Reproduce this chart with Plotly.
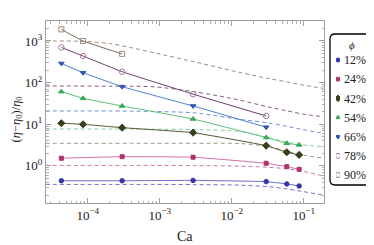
import plotly.graph_objects as go

# ---------------- data ----------------
labels = ["12%", "24%", "42%", "54%", "66%", "78%", "90%"]

ca_12 = [4.3e-5, 3.0e-4, 2.9e-3, 3.0e-2, 5.8e-2, 8.6e-2]
eta_12 = [0.44, 0.44, 0.45, 0.42, 0.37, 0.33]
ca_24 = [4.3e-5, 3.0e-4, 2.9e-3, 3.0e-2, 5.8e-2, 8.6e-2]
eta_24 = [1.53, 1.67, 1.62, 1.16, 0.96, 0.83]
ca_42 = [4.3e-5, 8.6e-5, 3.0e-4, 2.9e-3, 3.0e-2, 5.8e-2, 8.6e-2]
eta_42 = [10.6, 10.0, 8.3, 6.3, 3.07, 2.13, 1.84]
ca_54 = [4.3e-5, 8.6e-5, 3.0e-4, 2.9e-3, 3.0e-2, 5.8e-2, 8.6e-2]
eta_54 = [60.7, 42.0, 27.5, 13.4, 4.8, 3.5, 3.2]
ca_66 = [4.3e-5, 8.6e-5, 3.0e-4, 2.9e-3, 3.0e-2]
eta_66 = [290, 173, 80, 27.5, 8.5]
ca_78 = [4.3e-5, 8.6e-5, 3.0e-4, 2.9e-3, 3.0e-2]
eta_78 = [700, 435, 183, 53, 15.8]
ca_90 = [4.3e-5, 8.6e-5, 3.0e-4]
eta_90 = [1900, 1000, 490]

# theory curves (dashed), read along a common Ca grid
ca_theory = [2.6e-5, 7.8e-5, 2.0e-4, 3.9e-4, 8.6e-4, 3.1e-3, 1.3e-2, 3.2e-2, 5.9e-2, 9.5e-2, 0.185]
th_12 = [0.36, 0.36, 0.36, 0.36, 0.36, 0.356, 0.346, 0.317, 0.28, 0.244, 0.20]
th_24 = [1.03, 1.03, 1.03, 1.03, 1.03, 1.02, 0.99, 0.93, 0.85, 0.75, 0.575]
th_42 = [3.5, 3.5, 3.5, 3.5, 3.5, 3.5, 3.45, 2.94, 2.23, 1.84, 1.53]
th_54 = [7.7, 7.7, 7.7, 7.7, 7.6, 7.5, 6.7, 4.8, 3.7, 3.2, 2.9]
th_66 = [20.9, 20.9, 20.9, 20.7, 20.3, 18.7, 13.1, 10.8, 8.9, 7.5, 6.1]
th_78 = [83, 83, 82, 82, 79, 60, 38, 26, 21, 17.7, 15.2]
th_90 = [1000, 984, 871, 698, 515, 313, 175, 126, 104, 88, 73]

xticks = [1e-4, 1e-3, 1e-2, 1e-1]
xticklabels = ["10<sup>−4</sup>", "10<sup>−3</sup>", "10<sup>−2</sup>", "10<sup>−1</sup>"]
yticks = [1, 10, 100, 1000]
yticklabels = ["10<sup>0</sup>", "10<sup>1</sup>", "10<sup>2</sup>", "10<sup>3</sup>"]

# ---------------- styles ----------------
series = [
    (ca_12, eta_12, th_12, "circle", "#3636a6", "#6b6bc8", "#7070d0", 4.5),
    (ca_24, eta_24, th_24, "square", "#b0306c", "#d070a8", "#c878a8", 4),
    (ca_42, eta_42, th_42, "diamond", "#3d3d1c", "#555533", "#9a9a82", 5.5),
    (ca_54, eta_54, th_54, "triangle-up", "#3aa858", "#5cc07a", "#80d0a0", 5),
    (ca_66, eta_66, th_66, "triangle-down", "#2f55b5", "#4f7fd0", "#7090d8", 5),
    (ca_78, eta_78, th_78, "circle-open", "#a07aa0", "#6b3f6b", "#8a5a8a", 5.5),
    (ca_90, eta_90, th_90, "square-open", "#9a8a7a", "#7d6a55", "#a08c78", 5),
]

fig = go.Figure()
serif = "Liberation Serif, Times New Roman, serif"

for (ca, eta, th, sym, mc, lc, dc, ms), lab in zip(series, labels):
    fig.add_trace(go.Scatter(x=ca_theory, y=th, mode="lines",
                             line=dict(color=dc, width=1, dash="4px,3px", shape="spline", smoothing=0.8),
                             showlegend=False, hoverinfo="skip"))
for (ca, eta, th, sym, mc, lc, dc, ms), lab in zip(series, labels):
    fig.add_trace(go.Scatter(x=ca, y=eta, mode="lines+markers",
                             line=dict(color=lc, width=1, shape="spline", smoothing=0.3),
                             marker=dict(symbol=sym, color=mc, size=ms,
                                         line=dict(color=mc, width=1)),
                             showlegend=False, name=lab))

# legend keys on a small auxiliary axis
for (ca, eta, th, sym, mc, lc, dc, ms), lab in zip(series, labels):
    fig.add_trace(go.Scatter(x=[0], y=[lab], mode="markers", xaxis="x2", yaxis="y2",
                             marker=dict(symbol=sym, color=mc, size=ms - 0.5,
                                         line=dict(color=mc, width=1)),
                             showlegend=False, hoverinfo="skip"))

# minor tick positions (2..9 within each decade)
x_minor = [k * 10.0 ** e for e in range(-5, 0) for k in range(2, 10)]
y_minor = [k * 10.0 ** e for e in range(-1, 4) for k in range(2, 10)]

axis_common = dict(type="log", showline=True, linecolor="#a0a0a0", linewidth=1,
                   mirror="ticks", ticks="inside", ticklen=5, tickcolor="#a0a0a0",
                   showgrid=False, zeroline=False, automargin=False,
                   tickfont=dict(family=serif, size=13, color="#222"))

# The page body adds an 8px offset; the figure is sized to fill the rest of the window.
W = 328.0  # plot-paper width in px
H = 182.0
def px(v):   # screen x -> paper x
    return (v - 46) / W
def py(v):   # screen y -> paper y
    return (203 - v) / H

fig.update_layout(
    width=366, height=237,
    margin=dict(l=38, r=0, t=13, b=42),
    paper_bgcolor="white", plot_bgcolor="white",
    showlegend=False,
    font=dict(family=serif, color="#222"),
    xaxis=dict(**axis_common, domain=[0, px(324)], range=[-4.58, -0.72],
               tickvals=xticks, ticktext=xticklabels,
               minor=dict(tickmode="array", tickvals=x_minor, ticks="inside", ticklen=2.5,
                          tickcolor="#b0b0b0", showgrid=False)),
    yaxis=dict(**axis_common, range=[-0.89, 3.48], tickvals=yticks, ticktext=yticklabels,
               minor=dict(tickmode="array", tickvals=y_minor, ticks="inside", ticklen=2.5,
                          tickcolor="#b0b0b0", showgrid=False)),
    xaxis2=dict(domain=[px(336), px(340)], anchor="y2", range=[-1, 1], visible=False,
                automargin=False),
    yaxis2=dict(domain=[py(184.6), py(50.4)], anchor="x2", type="category",
                categoryorder="array", categoryarray=labels[::-1], range=[-0.5, 6.5],
                side="right", showgrid=False, showline=False, zeroline=False, ticks="",
                ticklabelstandoff=3, automargin=False,
                tickfont=dict(family=serif, size=12, color="#222")),
)

# axis titles
fig.add_annotation(text="Ca", xref="paper", yref="paper", x=px(185), y=py(236),
                   xanchor="center", yanchor="middle",
                   showarrow=False, font=dict(family=serif, size=14, color="#222"))
fig.add_annotation(text="(<i>η</i>−<i>η</i><sub>0</sub>)/<i>η</i><sub>0</sub>",
                   xref="paper", yref="paper", x=px(16.5), y=py(119), textangle=-90,
                   xanchor="center", yanchor="middle",
                   showarrow=False, font=dict(family=serif, size=12.5, color="#222"))

# rounded legend frame
x0, x1, y0, y1 = px(330), px(372.5), py(185), py(34)
rx, ry = 5 / W, 5 / H
path = (f"M {x0+rx},{y0} L {x1-rx},{y0} Q {x1},{y0} {x1},{y0+ry} "
        f"L {x1},{y1-ry} Q {x1},{y1} {x1-rx},{y1} L {x0+rx},{y1} "
        f"Q {x0},{y1} {x0},{y1-ry} L {x0},{y0+ry} Q {x0},{y0} {x0+rx},{y0} Z")
fig.add_shape(type="path", path=path, xref="paper", yref="paper",
              line=dict(color="black", width=1.3))
fig.add_annotation(text="<i>ϕ</i>", xref="paper", yref="paper", x=px(351.5), y=py(45),
                   xanchor="center", yanchor="middle",
                   showarrow=False, font=dict(family=serif, size=11, color="#222"))

fig.write_html("out.html")
